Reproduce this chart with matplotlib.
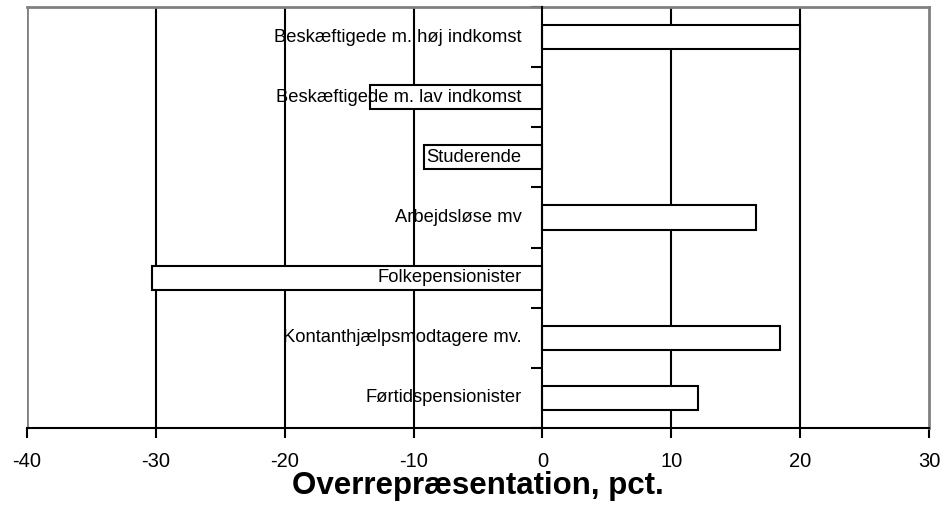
import matplotlib.pyplot as plt

# data
categories = ["Beskæftigede m. høj indkomst", "Beskæftigede m. lav indkomst", "Studerende",
              "Arbejdsløse mv", "Folkepensionister", "Kontanthjælpsmodtagere mv.",
              "Førtidspensionister"]
values = [20.0, -13.4, -9.2, 16.6, -30.3, 18.4, 12.1]
xticks = [-40, -30, -20, -10, 0, 10, 20, 30]
xlabel = "Overrepræsentation, pct."

plt.rcParams['font.family'] = ['Liberation Sans', 'DejaVu Sans']

fig = plt.figure(figsize=(9.42, 5.14), dpi=100)
ax = fig.add_axes([27 / 942, 1 - 428 / 514, (929 - 27) / 942, (428 - 7) / 514])

ypos = list(range(len(categories)))
ax.barh(ypos, values, height=0.4, color='white', edgecolor='black', linewidth=1.5, zorder=3)

for y, lab in zip(ypos, categories):
    ax.text(-1.6, y, lab, ha='right', va='center', fontsize=13.2, zorder=4)

ax.set_xlim(-40, 30)
ax.set_ylim(len(categories) - 0.5, -0.5)
ax.set_xticks(xticks)
ax.set_xticklabels([str(t) for t in xticks], fontsize=14.5)
for t in xticks[1:-1]:
    if t != 0:
        ax.axvline(t, color='black', linewidth=1.5, zorder=1)

# vertical axis at zero with ticks between the categories
ax.spines['left'].set_position(('data', 0))
ax.spines['left'].set_linewidth(1.5)
ax.spines['left'].set_zorder(5)
ax.set_yticks([i - 0.5 for i in range(len(categories) + 1)])
ax.set_yticklabels([])
ax.tick_params(axis='y', direction='out', length=8, width=1.5)
ax.tick_params(axis='x', direction='out', length=7, width=1.5, pad=10)

ax.spines['bottom'].set_linewidth(1.5)
for s in ['top', 'right']:
    ax.spines[s].set_color('#808080')
    ax.spines[s].set_linewidth(2)
ax.axvline(-40, color='#808080', linewidth=2, zorder=2)

ax.set_xlabel(xlabel, fontsize=22.5, fontweight='bold', labelpad=0)

fig.savefig('out.png', dpi=100)
